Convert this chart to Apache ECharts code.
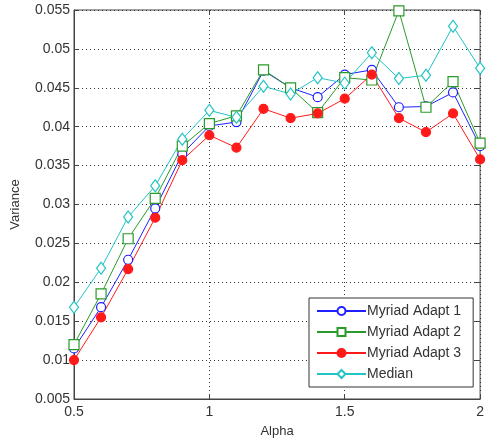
<!DOCTYPE html>
<html>
<head>
<meta charset="utf-8">
<style>
  html, body { margin: 0; padding: 0; background: #fff; }
  #chart { width: 487px; height: 443px; }
</style>
<script src="https://cdn.jsdelivr.net/npm/echarts@6/dist/echarts.min.js"></script>
</head>
<body>
<div id="chart"></div>
<script>
// Alpha sweep values
const alpha = [0.5, 0.6, 0.7, 0.8, 0.9, 1.0, 1.1, 1.2, 1.3, 1.4, 1.5, 1.6, 1.7, 1.8, 1.9, 2.0];

// Variance per estimator
const myriad1 = [0.0115, 0.0168, 0.0229, 0.0295, 0.0365, 0.0401, 0.0406, 0.0472, 0.0450, 0.0438, 0.0467, 0.0473, 0.0425, 0.0426, 0.0444, 0.0375];
const myriad2 = [0.0120, 0.0185, 0.0256, 0.0308, 0.0375, 0.0404, 0.0414, 0.0473, 0.0450, 0.0418, 0.0463, 0.0460, 0.0549, 0.0425, 0.0458, 0.0379];
const myriad3 = [0.0100, 0.0155, 0.0217, 0.0283, 0.0357, 0.0389, 0.0373, 0.0423, 0.0411, 0.0417, 0.0436, 0.0467, 0.0411, 0.0393, 0.0417, 0.0358];
const median  = [0.0168, 0.0218, 0.0284, 0.0324, 0.0384, 0.0421, 0.0412, 0.0452, 0.0442, 0.0463, 0.0456, 0.0495, 0.0462, 0.0466, 0.0529, 0.0475];

const xTicks = { min: 0.5, max: 2, interval: 0.5 };
const yTicks = { min: 0.005, max: 0.055, interval: 0.005 };

const font = 'Liberation Sans, Arial, sans-serif';
const fmt = v => String(parseFloat(v.toFixed(3)));

function pairs(ys) { return alpha.map((a, i) => [a, ys[i]]); }

function series(name, ys, color, symbol, size, filled) {
  return {
    name, type: 'line', data: pairs(ys),
    symbol, symbolSize: size, showSymbol: true,
    lineStyle: { color, width: 1 },
    itemStyle: { color: filled ? color : '#fff', borderColor: color, borderWidth: 1.2 },
    emphasis: { disabled: true },
    animation: false
  };
}

const chart = echarts.init(document.getElementById('chart'));
chart.setOption({
  animation: false,
  grid: { left: 74, right: 4, top: 10, bottom: 42, show: true, borderColor: '#444', borderWidth: 1 },
  xAxis: [{
    type: 'value', min: xTicks.min, max: xTicks.max, interval: xTicks.interval,
    name: 'Alpha', nameLocation: 'middle', nameGap: 26,
    nameTextStyle: { fontFamily: font, fontSize: 13, color: '#333' },
    axisLine: { show: true, lineStyle: { color: '#444' } },
    axisTick: { show: true, inside: true, length: 5, lineStyle: { color: '#444' } },
    axisLabel: { fontFamily: font, fontSize: 14, color: '#333', margin: 6, formatter: fmt },
    splitLine: { show: true, lineStyle: { color: '#333', type: [1, 3], width: 1 } }
  }, {
    type: 'value', position: 'top', min: xTicks.min, max: xTicks.max, interval: xTicks.interval,
    axisLine: { show: false }, axisLabel: { show: false }, splitLine: { show: false },
    axisTick: { show: true, inside: true, length: 5, lineStyle: { color: '#444' } }
  }],
  yAxis: [{
    type: 'value', min: yTicks.min, max: yTicks.max, interval: yTicks.interval,
    name: 'Variance', nameLocation: 'middle', nameGap: 52,
    nameTextStyle: { fontFamily: font, fontSize: 13, color: '#333' },
    axisLine: { show: true, lineStyle: { color: '#444' } },
    axisTick: { show: true, inside: true, length: 5, lineStyle: { color: '#444' } },
    axisLabel: { fontFamily: font, fontSize: 14, color: '#333', margin: 4, formatter: fmt },
    splitLine: { show: true, lineStyle: { color: '#333', type: [1, 3], width: 1 } }
  }, {
    type: 'value', position: 'right', min: yTicks.min, max: yTicks.max, interval: yTicks.interval,
    axisLine: { show: false }, axisLabel: { show: false }, splitLine: { show: false },
    axisTick: { show: true, inside: true, length: 5, lineStyle: { color: '#444' } }
  }],
  legend: {
    orient: 'vertical', left: 309, top: 298,
    backgroundColor: '#fff', borderColor: '#333', borderWidth: 1,
    padding: [6, 12, 6, 7], itemGap: 7, itemWidth: 49, itemHeight: 10,
    textStyle: { fontFamily: font, fontSize: 14, color: '#333', padding: [0, 0, 0, -4] },
    data: ['Myriad Adapt 1', 'Myriad Adapt 2', 'Myriad Adapt 3', 'Median']
  },
  series: [
    series('Myriad Adapt 1', myriad1, '#1f1fff', 'circle', 9, false),
    series('Myriad Adapt 2', myriad2, '#2a9a2a', 'rect', 10, false),
    series('Myriad Adapt 3', myriad3, '#ff1a1a', 'circle', 9, true),
    series('Median', median, '#22c4c4', 'diamond', [9, 12], false)
  ]
});
</script>
</body>
</html>
